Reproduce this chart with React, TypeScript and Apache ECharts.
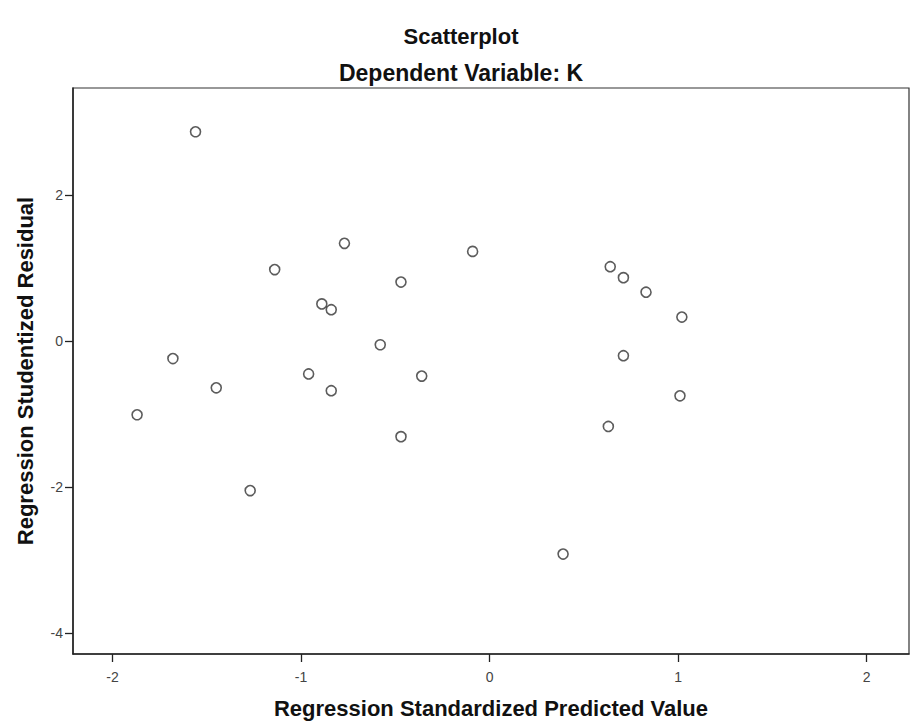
import React, { useEffect, useRef } from "react";
import * as echarts from "echarts";

const predictedValues = [-1.56, -0.77, -0.09, -1.14, -0.47, -0.89, -0.84, 0.64, 0.71, 0.83, 1.02, -0.58, -1.68, 0.71, -0.96, -0.36, -1.45, -0.84, 1.01, -1.87, 0.63, -0.47, -1.27, 0.39];
const studentizedResiduals = [2.87, 1.34, 1.23, 0.98, 0.81, 0.51, 0.43, 1.02, 0.87, 0.67, 0.33, -0.05, -0.24, -0.2, -0.45, -0.48, -0.64, -0.68, -0.75, -1.01, -1.17, -1.31, -2.05, -2.92];
const xTicks = [-2, -1, 0, 1, 2];
const yTicks = [-4, -2, 0, 2];

const FONT = "Liberation Sans, Arial, sans-serif";

export default function App() {
  const ref = useRef<HTMLDivElement>(null);
  useEffect(() => {
    if (!ref.current) return;
    const chart = echarts.init(ref.current, undefined, { renderer: "svg" });
    const data = predictedValues.map((x, i) => [x, studentizedResiduals[i]]);
    chart.setOption({
      animation: false,
      backgroundColor: "#ffffff",
      title: [
        {
          text: "Scatterplot",
          left: 456,
          textAlign: "center",
          top: 20,
          textStyle: { fontFamily: FONT, fontSize: 22, fontWeight: "bold", color: "#111" },
        },
        {
          text: "Dependent Variable: K",
          left: 456,
          textAlign: "center",
          top: 56,
          textStyle: { fontFamily: FONT, fontSize: 23, fontWeight: "bold", color: "#111" },
        },
      ],
      grid: {
        left: 73,
        right: 4,
        top: 88,
        bottom: 73,
        show: true,
        borderColor: "#333",
        borderWidth: 1.2,
        containLabel: false,
      },
      xAxis: {
        type: "value",
        min: -2.21,
        max: 2.225,
        splitLine: { show: false },
        axisLine: { show: true, onZero: false, lineStyle: { color: "#222", width: 1.5 } },
        axisTick: { show: true, customValues: xTicks, length: 8, lineStyle: { color: "#222", width: 1.3 } },
        axisLabel: { customValues: xTicks, color: "#444", fontSize: 14, fontFamily: FONT, margin: 16 },
        name: "Regression Standardized Predicted Value",
        nameLocation: "middle",
        nameGap: 43,
        nameTextStyle: { fontFamily: FONT, fontSize: 22, fontWeight: "bold", color: "#111" },
      },
      yAxis: {
        type: "value",
        min: -4.29,
        max: 3.47,
        splitLine: { show: false },
        axisLine: { show: true, onZero: false, lineStyle: { color: "#222", width: 1.5 } },
        axisTick: { show: true, customValues: yTicks, length: 8, lineStyle: { color: "#222", width: 1.3 } },
        axisLabel: { customValues: yTicks, color: "#444", fontSize: 14, fontFamily: FONT, margin: 10 },
        name: "Regression Studentized Residual",
        nameLocation: "middle",
        nameRotate: 90,
        nameGap: 37,
        nameTextStyle: { fontFamily: FONT, fontSize: 22, fontWeight: "bold", color: "#111" },
      },
      series: [
        {
          type: "scatter",
          data,
          symbol: "circle",
          symbolSize: 10,
          itemStyle: { color: "rgba(255,255,255,0)", borderColor: "#333", borderWidth: 1.6 },
          emphasis: { disabled: true },
        },
      ],
    });
    return () => chart.dispose();
  }, []);
  return (
    <div
      ref={ref}
      style={{ position: "fixed", left: 0, top: 0, width: 913, height: 727, background: "#fff" }}
    />
  );
}
